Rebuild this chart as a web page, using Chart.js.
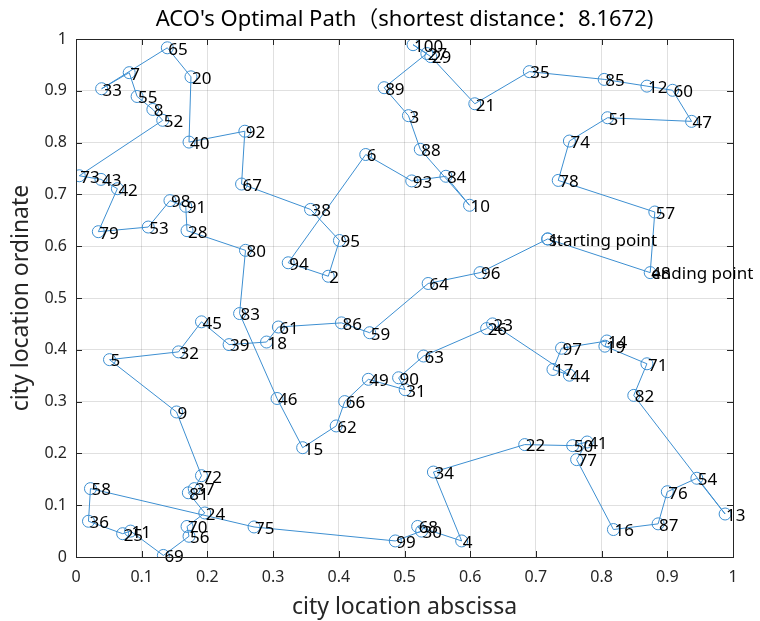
<!DOCTYPE html>
<html>
<head>
<meta charset="utf-8">
<script src="https://cdn.jsdelivr.net/npm/chart.js@4.4.0/dist/chart.umd.min.js"></script>
<style>
body { margin: 0; background: #fff; }
</style>
</head>
<body>
<canvas id="myChart" width="760" height="621"></canvas>
<script>
// city coordinates, index = city number - 1
var cityX = [0.718, 0.384, 0.506, 0.587, 0.051, 0.441, 0.081, 0.117, 0.153, 0.599,
             0.083, 0.869, 0.988, 0.808, 0.345, 0.818, 0.726, 0.290, 0.805, 0.175,
             0.607, 0.683, 0.634, 0.196, 0.071, 0.625, 0.534, 0.169, 0.540, 0.526,
             0.501, 0.156, 0.039, 0.544, 0.690, 0.019, 0.180, 0.357, 0.233, 0.172,
             0.778, 0.063, 0.038, 0.751, 0.191, 0.306, 0.937, 0.874, 0.445, 0.756,
             0.809, 0.132, 0.110, 0.945, 0.093, 0.172, 0.881, 0.022, 0.447, 0.908,
             0.308, 0.396, 0.529, 0.536, 0.139, 0.409, 0.252, 0.520, 0.133, 0.169,
             0.869, 0.191, 0.005, 0.751, 0.271, 0.900, 0.762, 0.734, 0.034, 0.258,
             0.171, 0.849, 0.249, 0.563, 0.804, 0.404, 0.886, 0.524, 0.469, 0.491,
             0.167, 0.257, 0.511, 0.323, 0.401, 0.615, 0.739, 0.143, 0.486, 0.513];
var cityY = [0.614, 0.542, 0.852, 0.031, 0.381, 0.777, 0.935, 0.864, 0.280, 0.679,
             0.050, 0.909, 0.083, 0.417, 0.211, 0.053, 0.362, 0.415, 0.407, 0.927,
             0.875, 0.217, 0.450, 0.085, 0.045, 0.441, 0.972, 0.630, 0.966, 0.050,
             0.323, 0.396, 0.904, 0.164, 0.937, 0.069, 0.132, 0.671, 0.410, 0.801,
             0.222, 0.711, 0.729, 0.351, 0.454, 0.306, 0.841, 0.549, 0.343, 0.215,
             0.848, 0.843, 0.637, 0.152, 0.889, 0.040, 0.666, 0.132, 0.433, 0.901,
             0.444, 0.253, 0.388, 0.528, 0.983, 0.300, 0.720, 0.059, 0.003, 0.059,
             0.373, 0.157, 0.736, 0.803, 0.058, 0.126, 0.188, 0.727, 0.628, 0.592,
             0.124, 0.312, 0.470, 0.735, 0.922, 0.452, 0.064, 0.787, 0.906, 0.346,
             0.677, 0.822, 0.726, 0.568, 0.611, 0.549, 0.403, 0.688, 0.031, 0.989];

// visiting order of the best tour
var route = [1, 96, 64, 59, 86, 61, 18, 39, 45, 32,
             5, 9, 72, 37, 81, 24, 70, 56, 69, 11,
             25, 36, 58, 75, 99, 30, 68, 4, 34, 22,
             50, 41, 77, 16, 87, 76, 54, 13, 82, 71,
             19, 14, 97, 17, 44, 23, 26, 63, 90, 31,
             49, 66, 62, 15, 46, 83, 80, 28, 91, 98,
             53, 79, 42, 43, 73, 52, 8, 55, 7, 33,
             65, 20, 40, 92, 67, 38, 95, 2, 94, 6,
             93, 84, 10, 88, 3, 89, 27, 100, 29, 21,
             35, 85, 12, 60, 47, 51, 74, 78, 57, 48];

var tickValues = [0, 0.1, 0.2, 0.3, 0.4, 0.5, 0.6, 0.7, 0.8, 0.9, 1];
var tickLabels = ['0', '0.1', '0.2', '0.3', '0.4', '0.5', '0.6', '0.7', '0.8', '0.9', '1'];
var startLabel = 'starting point';
var endLabel = 'ending point';
var titleText = "ACO's Optimal Path\uFF08shortest distance\uFF1A8.1672)";

var fontFam = "'Noto Sans', 'Noto Sans CJK SC', sans-serif";
var axisCol = '#262626';

var tour = route.concat([route[0]]).map(function (c) {
    return { x: cityX[c - 1], y: cityY[c - 1] };
});

// city numbers and start/end notes
var cityLabels = {
    id: 'cityLabels',
    afterDatasetsDraw: function (chart) {
        var ctx = chart.ctx, xs = chart.scales.x, ys = chart.scales.y;
        ctx.save();
        ctx.fillStyle = '#000';
        ctx.font = '17px ' + fontFam;
        ctx.textBaseline = 'middle';
        ctx.textAlign = 'left';
        for (var i = 0; i < cityX.length; i++) {
            ctx.fillText(String(i + 1), xs.getPixelForValue(cityX[i]) + 1, ys.getPixelForValue(cityY[i]) + 2);
        }
        var s = route[0] - 1, e = route[route.length - 1] - 1;
        ctx.fillText(startLabel, xs.getPixelForValue(cityX[s]) + 1, ys.getPixelForValue(cityY[s]) + 2);
        ctx.fillText(endLabel, xs.getPixelForValue(cityX[e]) + 1, ys.getPixelForValue(cityY[e]) + 2);
        ctx.restore();
    }
};

// matlab style box with inward ticks
var boxFrame = {
    id: 'boxFrame',
    afterDraw: function (chart) {
        var ctx = chart.ctx, a = chart.chartArea, xs = chart.scales.x, ys = chart.scales.y;
        var t = 6;
        ctx.save();
        ctx.strokeStyle = axisCol;
        ctx.lineWidth = 1;
        ctx.strokeRect(Math.round(a.left) + 0.5, Math.round(a.top) + 0.5,
                       Math.round(a.right - a.left), Math.round(a.bottom - a.top));
        ctx.beginPath();
        tickValues.forEach(function (v) {
            var px = Math.round(xs.getPixelForValue(v)) + 0.5;
            ctx.moveTo(px, a.bottom); ctx.lineTo(px, a.bottom - t);
            ctx.moveTo(px, a.top); ctx.lineTo(px, a.top + t);
            var py = Math.round(ys.getPixelForValue(v)) + 0.5;
            ctx.moveTo(a.left, py); ctx.lineTo(a.left + t, py);
            ctx.moveTo(a.right, py); ctx.lineTo(a.right - t, py);
        });
        ctx.stroke();
        ctx.restore();
    }
};

var ctx = document.getElementById('myChart').getContext('2d');
var myChart = new Chart(ctx, {
    type: 'scatter',
    data: {
        datasets: [{
            data: tour,
            showLine: true,
            borderColor: '#3d8fd1',
            borderWidth: 1,
            pointRadius: 6,
            pointBorderWidth: 1,
            pointBackgroundColor: 'rgba(0,0,0,0)',
            pointBorderColor: '#3d8fd1'
        }]
    },
    plugins: [cityLabels, boxFrame],
    options: {
        responsive: false,
        animation: false,
        layout: { padding: { left: 0, right: 27, top: 0, bottom: 0 } },
        plugins: {
            legend: { display: false },
            tooltip: { enabled: false },
            title: {
                display: true,
                text: titleText,
                fullSize: false,
                color: '#000',
                font: { family: fontFam, size: 22, weight: 'normal' },
                padding: { top: 7, bottom: 5.6 }
            }
        },
        scales: {
            x: {
                type: 'linear',
                min: 0, max: 1,
                afterBuildTicks: function (s) { s.ticks = tickValues.map(function (v) { return { value: v }; }); },
                afterFit: function (s) { s.height = 64; },
                ticks: {
                    callback: function (v, i) { return tickLabels[i]; },
                    color: axisCol,
                    font: { family: fontFam, size: 16 },
                    padding: 11,
                    maxRotation: 0
                },
                grid: { color: 'rgba(38,38,38,0.14)', drawTicks: false },
                border: { display: false },
                title: {
                    display: true,
                    text: 'city location abscissa',
                    color: axisCol,
                    font: { family: fontFam, size: 23 },
                    padding: { top: 0, bottom: 0 }
                }
            },
            y: {
                type: 'linear',
                min: 0, max: 1,
                afterBuildTicks: function (s) { s.ticks = tickValues.map(function (v) { return { value: v }; }); },
                afterFit: function (s) { s.width = 76; },
                ticks: {
                    callback: function (v, i) { return tickLabels[i]; },
                    color: axisCol,
                    font: { family: fontFam, size: 16 },
                    padding: 9
                },
                grid: { color: 'rgba(38,38,38,0.14)', drawTicks: false },
                border: { display: false },
                title: {
                    display: true,
                    text: 'city location ordinate',
                    color: axisCol,
                    font: { family: fontFam, size: 23 },
                    padding: { top: 8, bottom: 0 }
                }
            }
        }
    }
});
</script>
</body>
</html>
